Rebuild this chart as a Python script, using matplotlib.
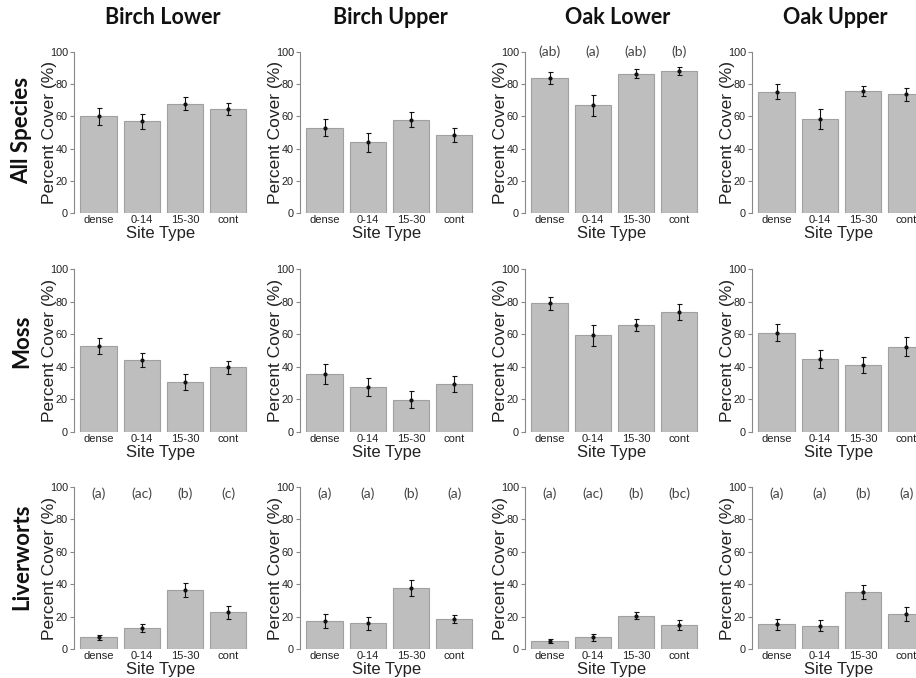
import matplotlib
matplotlib.use("Agg")
import matplotlib.pyplot as plt
import numpy as np

categories = ["dense", "0-14", "15-30", "cont"]
columns = ["Birch Lower", "Birch Upper", "Oak Lower", "Oak Upper"]
rows = ["All Species", "Moss", "Liverworts"]

# All Species
all_birch_lower = [60.0, 57.0, 68.0, 64.5]
all_birch_lower_se = [5.2, 4.8, 4.1, 3.7]
all_birch_upper = [53.0, 44.0, 58.0, 48.2]
all_birch_upper_se = [5.4, 5.9, 4.6, 4.4]
all_oak_lower = [84.1, 67.0, 86.5, 88.4]
all_oak_lower_se = [3.7, 6.6, 2.8, 2.5]
all_oak_upper = [75.4, 58.4, 75.8, 73.7]
all_oak_upper_se = [4.9, 6.5, 3.1, 4.0]

# Moss
moss_birch_lower = [52.8, 44.1, 30.6, 39.6]
moss_birch_lower_se = [5.1, 4.1, 4.9, 4.1]
moss_birch_upper = [35.5, 27.7, 19.9, 29.4]
moss_birch_upper_se = [6.1, 5.5, 5.0, 4.8]
moss_oak_lower = [78.9, 59.3, 65.7, 73.7]
moss_oak_lower_se = [4.2, 6.4, 3.7, 4.9]
moss_oak_upper = [61.0, 44.6, 41.1, 52.4]
moss_oak_upper_se = [5.0, 5.6, 5.1, 5.6]

# Liverworts
liv_birch_lower = [7.2, 13.2, 36.4, 22.6]
liv_birch_lower_se = [1.7, 2.5, 4.1, 4.2]
liv_birch_upper = [17.1, 16.0, 37.7, 18.5]
liv_birch_upper_se = [4.3, 4.0, 5.1, 2.3]
liv_oak_lower = [4.7, 7.2, 20.6, 14.6]
liv_oak_lower_se = [1.2, 2.0, 2.1, 3.1]
liv_oak_upper = [15.2, 14.4, 35.2, 21.6]
liv_oak_upper_se = [3.3, 3.2, 4.4, 4.3]

# significance letters
letters_all_oak_lower = ["(ab)", "(a)", "(ab)", "(b)"]
letters_liv_birch_lower = ["(a)", "(ac)", "(b)", "(c)"]
letters_liv_birch_upper = ["(a)", "(a)", "(b)", "(a)"]
letters_liv_oak_lower = ["(a)", "(ac)", "(b)", "(bc)"]
letters_liv_oak_upper = ["(a)", "(a)", "(b)", "(a)"]

data = [
    [(all_birch_lower, all_birch_lower_se, None),
     (all_birch_upper, all_birch_upper_se, None),
     (all_oak_lower, all_oak_lower_se, letters_all_oak_lower),
     (all_oak_upper, all_oak_upper_se, None)],
    [(moss_birch_lower, moss_birch_lower_se, None),
     (moss_birch_upper, moss_birch_upper_se, None),
     (moss_oak_lower, moss_oak_lower_se, None),
     (moss_oak_upper, moss_oak_upper_se, None)],
    [(liv_birch_lower, liv_birch_lower_se, letters_liv_birch_lower),
     (liv_birch_upper, liv_birch_upper_se, letters_liv_birch_upper),
     (liv_oak_lower, liv_oak_lower_se, letters_liv_oak_lower),
     (liv_oak_upper, liv_oak_upper_se, letters_liv_oak_upper)],
]

W, H = 916, 678
fig = plt.figure(figsize=(W / 100, H / 100), dpi=100)
fig.patch.set_facecolor("white")

axis_x_px = [73.5, 299.5, 524.5, 751.5]
row_px = [(52, 213), (269, 432), (487, 649)]
letter_y = [100, None, 96]
xlim = (-0.58, 3.45)
px_per_unit = 43.2
ax_w_px = (xlim[1] - xlim[0]) * px_per_unit

sans = ["Liberation Sans", "DejaVu Sans"]
title_font = ["Lato", "DejaVu Sans"]
x = np.arange(len(categories))

for r in range(3):
    top, bot = row_px[r]
    for c in range(4):
        vals, se, letters = data[r][c]
        ax = fig.add_axes([axis_x_px[c] / W, 1 - bot / H, ax_w_px / W, (bot - top) / H])
        ax.bar(x, vals, width=0.84, color="#bebebe", edgecolor="#a0a0a0", linewidth=0.8, zorder=2)
        ax.errorbar(x, vals, yerr=se, fmt="o", ms=2.0, color="#111111", ecolor="#111111",
                    elinewidth=0.8, capsize=1.8, capthick=0.8, zorder=3)
        ax.set_xlim(*xlim)
        ax.set_ylim(0, 100)
        ax.set_yticks([0, 20, 40, 60, 80, 100])
        ax.set_xticks(x)
        ax.set_xticklabels(categories, fontsize=8, family=sans, color="#222222")
        for lab in ax.get_yticklabels():
            lab.set_fontsize(7.8)
            lab.set_family(sans)
            lab.set_color("#222222")
        for s in ["top", "right", "bottom"]:
            ax.spines[s].set_visible(False)
        ax.spines["left"].set_color("#888888")
        ax.spines["left"].set_linewidth(0.8)
        ax.tick_params(axis="y", length=3, width=0.8, color="#888888", pad=1)
        ax.tick_params(axis="x", length=0, pad=1.5)
        ax.set_ylabel("Percent Cover (%)", fontsize=12.5, family=sans, color="#222222")
        ax.yaxis.set_label_coords(-0.095, 0.5)
        ax.set_xlabel("Site Type", fontsize=12, family=sans, color="#222222", labelpad=0.5)
        ax.set_facecolor("none")
        if letters is not None:
            for xi, t in zip(x, letters):
                ax.text(xi, letter_y[r], t, ha="center", va="center", fontsize=10,
                        family=title_font, color="#444444", clip_on=False)

col_centers = [163, 390, 618, 835]
for cx, name in zip(col_centers, columns):
    fig.text(cx / W, 1 - 18 / H, name, ha="center", va="center", fontsize=15.5,
             fontweight="bold", family=title_font, color="#111111")

row_centers = [130, 341, 557]
for cy, name in zip(row_centers, rows):
    fig.text(22 / W, 1 - cy / H, name, ha="center", va="center", rotation=90,
             fontsize=16, fontweight="bold", family=title_font, color="#111111")

fig.savefig("out.png", dpi=100)
